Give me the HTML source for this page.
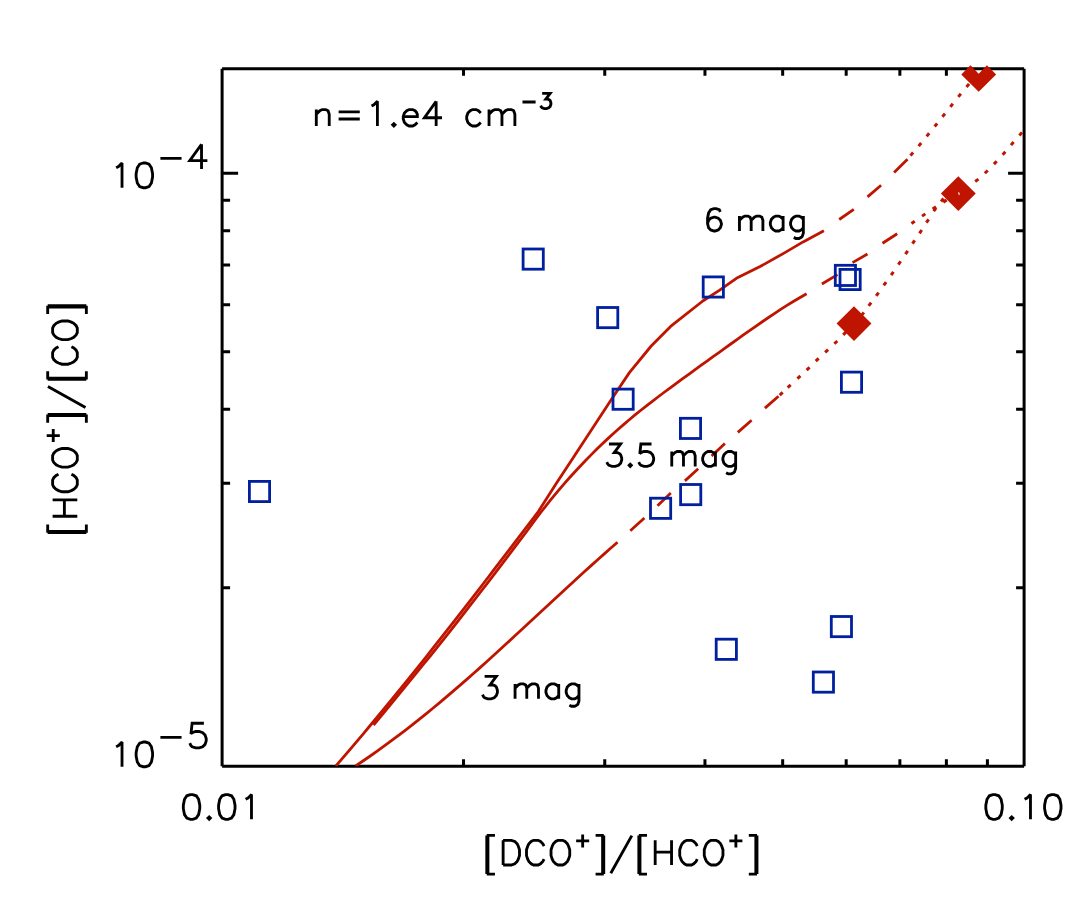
<!DOCTYPE html>
<html><head><meta charset="utf-8"><title>[HCO+]/[CO] vs [DCO+]/[HCO+]</title>
<style>html,body{margin:0;padding:0;background:#fff;font-family:"Liberation Sans",sans-serif}svg{display:block}</style>
</head><body>
<svg width="1090" height="907" viewBox="0 0 1090 907">
<defs><clipPath id="pc"><rect x="222.1" y="65.75" width="802" height="700.4"/></clipPath></defs>
<rect width="1090" height="907" fill="#fff"/>
<path d="M222.1 766.15 H1024.1 M222.1 68.75 H1024.1 M222.1 766.15 V68.75 M1024.1 766.15 V68.75" fill="none" stroke="#000" stroke-width="3" stroke-linecap="butt"/>
<path d="M463.53 766.15 V759.15 M463.53 68.75 V75.75 M604.75 766.15 V759.15 M604.75 68.75 V75.75 M704.95 766.15 V759.15 M704.95 68.75 V75.75 M782.67 766.15 V759.15 M782.67 68.75 V75.75 M846.18 766.15 V759.15 M846.18 68.75 V75.75 M899.87 766.15 V759.15 M899.87 68.75 V75.75 M946.38 766.15 V759.15 M946.38 68.75 V75.75 M987.4 766.15 V759.15 M987.4 68.75 V75.75 M222.1 587.64 H230.1 M1024.1 587.64 H1016.1 M222.1 483.23 H230.1 M1024.1 483.23 H1016.1 M222.1 409.14 H230.1 M1024.1 409.14 H1016.1 M222.1 351.67 H230.1 M1024.1 351.67 H1016.1 M222.1 304.72 H230.1 M1024.1 304.72 H1016.1 M222.1 265.02 H230.1 M1024.1 265.02 H1016.1 M222.1 230.63 H230.1 M1024.1 230.63 H1016.1 M222.1 200.3 H230.1 M1024.1 200.3 H1016.1 M222.1 173.17 H238.1 M1024.1 173.17 H1008.1" fill="none" stroke="#000" stroke-width="3"/>
<path d="M116.15 167.72 L118.5 166.55 L122.02 163.02 L122.02 187.7 M143.18 163.02 L139.65 164.2 L137.3 167.72 L136.12 173.6 L136.12 177.12 L137.3 183 L139.65 186.52 L143.18 187.7 L145.53 187.7 L149.05 186.52 L151.4 183 L152.57 177.12 L152.57 173.6 L151.4 167.72 L149.05 164.2 L145.53 163.02 Z" fill="none" stroke="#000" stroke-width="2.85" stroke-linecap="butt" stroke-linejoin="miter" stroke-miterlimit="2.5"/>
<path d="M160.4 158.32 L181.55 158.32 M201.52 144.22 L189.77 160.67 L207.4 160.67 M201.52 144.22 L201.52 168.9" fill="none" stroke="#000" stroke-width="2.85" stroke-linecap="butt" stroke-linejoin="miter" stroke-miterlimit="2.5"/>
<path d="M116.15 746.73 L118.5 745.55 L122.02 742.03 L122.02 766.7 M143.18 742.03 L139.65 743.2 L137.3 746.73 L136.12 752.6 L136.12 756.12 L137.3 762 L139.65 765.53 L143.18 766.7 L145.53 766.7 L149.05 765.53 L151.4 762 L152.57 756.12 L152.57 752.6 L151.4 746.73 L149.05 743.2 L145.53 742.03 Z" fill="none" stroke="#000" stroke-width="2.85" stroke-linecap="butt" stroke-linejoin="miter" stroke-miterlimit="2.5"/>
<path d="M160.4 737.33 L181.55 737.33 M203.88 723.23 L192.12 723.23 L190.95 733.8 L192.12 732.63 L195.65 731.45 L199.17 731.45 L202.7 732.63 L205.05 734.98 L206.22 738.5 L206.22 740.85 L205.05 744.38 L202.7 746.73 L199.17 747.9 L195.65 747.9 L192.12 746.73 L190.95 745.55 L189.77 743.2" fill="none" stroke="#000" stroke-width="2.85" stroke-linecap="butt" stroke-linejoin="miter" stroke-miterlimit="2.5"/>
<path d="M190.38 794.62 L186.85 795.8 L184.5 799.32 L183.33 805.2 L183.33 808.72 L184.5 814.6 L186.85 818.12 L190.38 819.3 L192.73 819.3 L196.25 818.12 L198.6 814.6 L199.78 808.72 L199.78 805.2 L198.6 799.32 L196.25 795.8 L192.73 794.62 Z M209.18 816.95 L208 818.12 L209.18 819.3 L210.35 818.12 Z M225.62 794.62 L222.1 795.8 L219.75 799.32 L218.58 805.2 L218.58 808.72 L219.75 814.6 L222.1 818.12 L225.62 819.3 L227.98 819.3 L231.5 818.12 L233.85 814.6 L235.03 808.72 L235.03 805.2 L233.85 799.32 L231.5 795.8 L227.98 794.62 Z M245.6 799.32 L247.95 798.15 L251.48 794.62 L251.48 819.3" fill="none" stroke="#000" stroke-width="2.85" stroke-linecap="butt" stroke-linejoin="miter" stroke-miterlimit="2.5"/>
<path d="M992.88 794.62 L989.35 795.8 L987 799.32 L985.82 805.2 L985.82 808.72 L987 814.6 L989.35 818.12 L992.88 819.3 L995.22 819.3 L998.75 818.12 L1001.1 814.6 L1002.27 808.72 L1002.27 805.2 L1001.1 799.32 L998.75 795.8 L995.22 794.62 Z M1011.67 816.95 L1010.5 818.12 L1011.67 819.3 L1012.85 818.12 Z M1024.6 799.32 L1026.95 798.15 L1030.47 794.62 L1030.47 819.3 M1051.62 794.62 L1048.1 795.8 L1045.75 799.32 L1044.58 805.2 L1044.58 808.72 L1045.75 814.6 L1048.1 818.12 L1051.62 819.3 L1053.97 819.3 L1057.5 818.12 L1059.85 814.6 L1061.02 808.72 L1061.02 805.2 L1059.85 799.32 L1057.5 795.8 L1053.97 794.62 Z" fill="none" stroke="#000" stroke-width="2.85" stroke-linecap="butt" stroke-linejoin="miter" stroke-miterlimit="2.5"/>
<path d="M486.77 835.39 L486.77 874.05 M487.94 835.39 L487.94 874.05 M486.77 835.39 L494.95 835.39 M486.77 874.05 L494.95 874.05 M503.13 840.33 L503.13 865 M503.13 840.33 L511.31 840.33 L514.82 841.5 L517.16 843.85 L518.32 846.2 L519.49 849.73 L519.49 855.6 L518.32 859.12 L517.16 861.48 L514.82 863.83 L511.31 865 L503.13 865 M544.03 846.2 L542.86 843.85 L540.53 841.5 L538.19 840.33 L533.52 840.33 L531.18 841.5 L528.84 843.85 L527.67 846.2 L526.5 849.73 L526.5 855.6 L527.67 859.12 L528.84 861.48 L531.18 863.83 L533.52 865 L538.19 865 L540.53 863.83 L542.86 861.48 L544.03 859.12 M558.05 840.33 L555.72 841.5 L553.38 843.85 L552.21 846.2 L551.04 849.73 L551.04 855.6 L552.21 859.12 L553.38 861.48 L555.72 863.83 L558.05 865 L562.73 865 L565.07 863.83 L567.4 861.48 L568.57 859.12 L569.74 855.6 L569.74 849.73 L568.57 846.2 L567.4 843.85 L565.07 841.5 L562.73 840.33 Z" fill="none" stroke="#000" stroke-width="2.85" stroke-linecap="butt" stroke-linejoin="miter" stroke-miterlimit="2.5"/>
<path d="M582.66 834.39 L582.66 847.5 M576.14 840.94 L589.18 840.94" fill="none" stroke="#000" stroke-width="2.85" stroke-linecap="butt" stroke-linejoin="miter" stroke-miterlimit="2.5"/>
<path d="M602.6 835.39 L602.6 874.05 M603.77 835.39 L603.77 874.05 M595.59 835.39 L603.77 835.39 M595.59 874.05 L603.77 874.05 M631.81 835.62 L610.78 873.23 M638.82 835.39 L638.82 874.05 M639.99 835.39 L639.99 874.05 M638.82 835.39 L647 835.39 M638.82 874.05 L647 874.05 M655.18 840.33 L655.18 865 M671.54 840.33 L671.54 865 M655.18 852.08 L671.54 852.08 M697.25 846.2 L696.08 843.85 L693.75 841.5 L691.41 840.33 L686.73 840.33 L684.4 841.5 L682.06 843.85 L680.89 846.2 L679.72 849.73 L679.72 855.6 L680.89 859.12 L682.06 861.48 L684.4 863.83 L686.73 865 L691.41 865 L693.75 863.83 L696.08 861.48 L697.25 859.12 M711.27 840.33 L708.94 841.5 L706.6 843.85 L705.43 846.2 L704.26 849.73 L704.26 855.6 L705.43 859.12 L706.6 861.48 L708.94 863.83 L711.27 865 L715.95 865 L718.28 863.83 L720.62 861.48 L721.79 859.12 L722.96 855.6 L722.96 849.73 L721.79 846.2 L720.62 843.85 L718.28 841.5 L715.95 840.33 Z" fill="none" stroke="#000" stroke-width="2.85" stroke-linecap="butt" stroke-linejoin="miter" stroke-miterlimit="2.5"/>
<path d="M735.88 834.39 L735.88 847.5 M729.36 840.94 L742.4 840.94" fill="none" stroke="#000" stroke-width="2.85" stroke-linecap="butt" stroke-linejoin="miter" stroke-miterlimit="2.5"/>
<path d="M755.82 835.39 L755.82 874.05 M756.99 835.39 L756.99 874.05 M748.81 835.39 L756.99 835.39 M748.81 874.05 L756.99 874.05" fill="none" stroke="#000" stroke-width="2.85" stroke-linecap="butt" stroke-linejoin="miter" stroke-miterlimit="2.5"/>
<path d="M47.69 532.63 L86.35 532.63 M47.69 531.46 L86.35 531.46 M47.69 532.63 L47.69 524.45 M86.35 532.63 L86.35 524.45 M52.62 516.27 L77.3 516.27 M52.62 499.91 L77.3 499.91 M64.38 516.27 L64.38 499.91 M58.5 474.2 L56.15 475.37 L53.8 477.7 L52.62 480.04 L52.62 484.72 L53.8 487.05 L56.15 489.39 L58.5 490.56 L62.02 491.73 L67.9 491.73 L71.42 490.56 L73.77 489.39 L76.12 487.05 L77.3 484.72 L77.3 480.04 L76.12 477.7 L73.77 475.37 L71.42 474.2 M52.62 460.18 L53.8 462.51 L56.15 464.85 L58.5 466.02 L62.02 467.19 L67.9 467.19 L71.42 466.02 L73.77 464.85 L76.12 462.51 L77.3 460.18 L77.3 455.5 L76.12 453.17 L73.77 450.83 L71.42 449.66 L67.9 448.49 L62.02 448.49 L58.5 449.66 L56.15 450.83 L53.8 453.17 L52.62 455.5 Z" fill="none" stroke="#000" stroke-width="2.85" stroke-linecap="butt" stroke-linejoin="miter" stroke-miterlimit="2.5"/>
<path d="M46.69 435.57 L59.8 435.57 M53.24 442.09 L53.24 429.05" fill="none" stroke="#000" stroke-width="2.85" stroke-linecap="butt" stroke-linejoin="miter" stroke-miterlimit="2.5"/>
<path d="M47.69 415.63 L86.35 415.63 M47.69 414.46 L86.35 414.46 M47.69 422.64 L47.69 414.46 M86.35 422.64 L86.35 414.46 M47.92 386.42 L85.52 407.45 M47.69 379.41 L86.35 379.41 M47.69 378.24 L86.35 378.24 M47.69 379.41 L47.69 371.23 M86.35 379.41 L86.35 371.23 M58.5 346.69 L56.15 347.86 L53.8 350.19 L52.62 352.53 L52.62 357.21 L53.8 359.54 L56.15 361.88 L58.5 363.05 L62.02 364.22 L67.9 364.22 L71.42 363.05 L73.77 361.88 L76.12 359.54 L77.3 357.21 L77.3 352.53 L76.12 350.19 L73.77 347.86 L71.42 346.69 M52.62 332.67 L53.8 335 L56.15 337.34 L58.5 338.51 L62.02 339.68 L67.9 339.68 L71.42 338.51 L73.77 337.34 L76.12 335 L77.3 332.67 L77.3 327.99 L76.12 325.65 L73.77 323.32 L71.42 322.15 L67.9 320.98 L62.02 320.98 L58.5 322.15 L56.15 323.32 L53.8 325.65 L52.62 327.99 Z M47.69 306.96 L86.35 306.96 M47.69 305.79 L86.35 305.79 M47.69 313.97 L47.69 305.79 M86.35 313.97 L86.35 305.79" fill="none" stroke="#000" stroke-width="2.85" stroke-linecap="butt" stroke-linejoin="miter" stroke-miterlimit="2.5"/>
<path d="M316.3 109.55 L316.3 126 M316.3 114.25 L319.83 110.72 L322.18 109.55 L325.7 109.55 L328.05 110.72 L329.23 114.25 L329.23 126 M338.62 111.9 L359.78 111.9 M338.62 118.95 L359.78 118.95 M371.53 106.03 L373.88 104.85 L377.4 101.33 L377.4 126 M393.85 123.65 L392.68 124.83 L393.85 126 L395.03 124.83 Z M403.25 116.6 L417.35 116.6 L417.35 114.25 L416.18 111.9 L415 110.72 L412.65 109.55 L409.12 109.55 L406.78 110.72 L404.43 113.08 L403.25 116.6 L403.25 118.95 L404.43 122.47 L406.78 124.83 L409.12 126 L412.65 126 L415 124.83 L417.35 122.47 M436.15 101.33 L424.4 117.78 L442.03 117.78 M436.15 101.33 L436.15 126 M480.8 113.08 L478.45 110.72 L476.1 109.55 L472.58 109.55 L470.23 110.72 L467.88 113.08 L466.7 116.6 L466.7 118.95 L467.88 122.47 L470.23 124.83 L472.58 126 L476.1 126 L478.45 124.83 L480.8 122.47 M489.03 109.55 L489.03 126 M489.03 114.25 L492.55 110.72 L494.9 109.55 L498.43 109.55 L500.78 110.72 L501.95 114.25 L501.95 126 M501.95 114.25 L505.48 110.72 L507.83 109.55 L511.35 109.55 L513.7 110.72 L514.88 114.25 L514.88 126" fill="none" stroke="#000" stroke-width="2.85" stroke-linecap="butt" stroke-linejoin="miter" stroke-miterlimit="2.5"/>
<path d="M522.49 102.04 L535.6 102.04 M542.16 93.3 L550.17 93.3 L545.8 99.13 L547.99 99.13 L549.44 99.86 L550.17 100.59 L550.9 102.77 L550.9 104.23 L550.17 106.41 L548.72 107.87 L546.53 108.6 L544.34 108.6 L542.16 107.87 L541.43 107.14 L540.7 105.69" fill="none" stroke="#000" stroke-width="2.85" stroke-linecap="butt" stroke-linejoin="miter" stroke-miterlimit="2.5"/>
<g fill="none" stroke="#bf1500" stroke-width="2.8" stroke-linecap="butt" stroke-linejoin="round" clip-path="url(#pc)">
<path d="M335.9 765.9 L341.53 759.38 L347.11 752.85 L352.67 746.33 L358.19 739.81 L363.69 733.28 L369.15 726.76 L374.59 720.24 L380 713.72 L385.38 707.19 L390.73 700.67 L396.06 694.15 L401.37 687.62 L406.65 681.1 L411.91 674.58 L417.14 668.05 L422.36 661.53 L427.55 655.01 L432.73 648.48 L437.88 641.96 L443.02 635.44 L448.14 628.92 L453.25 622.39 L458.34 615.87 L463.41 609.35 L468.47 602.82 L473.52 596.3 L478.56 589.78 L483.58 583.25 L488.59 576.73 L493.6 570.21 L498.59 563.68 L503.58 557.16 L508.56 550.64 L513.53 544.12 L518.5 537.59 L523.46 531.07 L528.42 524.55 L533.38 518.02 L538.33 511.5 L556.4 483.2 L571.7 460 L610.7 400.5 L629.4 372.6 L651.2 346 L670.6 326.4 L702.8 301 L719.3 290.3 L736.4 278.3 L760.6 266.3 L784.9 252.6 L803.1 241.9 L823.9 230.8"/>
<path d="M373.53 725 L379.15 718.28 L384.75 711.55 L390.31 704.83 L395.84 698.1 L401.35 691.38 L406.87 684.66 L412.38 677.93 L417.87 671.21 L423.33 664.48 L428.77 657.76 L434.19 651.03 L439.59 644.31 L444.97 637.59 L450.33 630.86 L455.62 624.14 L460.87 617.41 L466.1 610.69 L471.32 603.97 L476.52 597.24 L481.7 590.52 L486.87 583.79 L492.03 577.07 L497.18 570.34 L502.32 563.62 L507.43 556.9 L512.52 550.17 L517.61 543.45 L522.68 536.72 L527.76 530 L532.13 523.94 L536.58 517.93 L541.12 511.97 L545.73 506.05 L550.42 500.19 L555.19 494.38 L560.03 488.62 L564.95 482.93 L569.93 477.29 L575 471.71 L580.13 466.19 L585.33 460.74 L590.6 455.36 L595.93 450.05 L601.33 444.8 L606.8 439.63 L612.32 434.54 L617.91 429.52 L623.57 424.58 L629.28 419.71 L635.04 414.94 L640.87 410.23 L646.74 405.6 L652.65 401.02 L658.6 396.49 L664.58 392 L670.59 387.54 L676.62 383.1 L682.67 378.68 L688.73 374.26 L694.81 369.85 L700.89 365.45 L706.99 361.06 L713.09 356.66 L719.21 352.28 L725.33 347.89 L731.46 343.5 L737.6 339.12 L743.74 334.73 L749.9 330.37 L756.07 326.03 L762.27 321.73 L768.49 317.48 L774.74 313.3 L781.02 309.2 L787.35 305.18 L793.71 301.27 L800.13 297.47 L806.6 293.8"/>
<path d="M355.6 765.9 L362.96 760.97 L370.26 755.97 L377.5 750.88 L384.68 745.72 L391.8 740.48 L398.87 735.18 L405.89 729.82 L412.85 724.39 L419.77 718.9 L426.65 713.35 L433.48 707.76 L440.28 702.11 L447.03 696.42 L453.75 690.68 L460.44 684.9 L467.1 679.08 L473.73 673.24 L480.34 667.35 L486.92 661.45 L493.48 655.51 L500.03 649.56 L506.56 643.58 L513.07 637.59 L519.58 631.59 L526.07 625.58 L532.56 619.56 L539.05 613.54 L545.54 607.52 L552.02 601.51 L558.52 595.5 L565.01 589.49 L571.52 583.51 L578.03 577.53 L584.56 571.58 L591.11 565.65 L597.67 559.74 L604.26 553.86 L610.86 548.01 L617.5 542.2"/>
<path d="M839.2 219.5 L853.8 209.3 M867.5 196.9 L881.1 185.3 M894.1 172.5 L907.5 159.2 M821.9 284 L837.5 274.6 M852.5 262.6 L867.5 254 M882.5 243.2 L897.2 233.8 M630.3 530.8 L644.4 518 M657.5 505.8 L670.8 493 M684.9 480.9 L698.2 468.7 M711.6 456.1 L724.9 443.5 M737.8 432.4 L751.6 420.2 M764.9 408.1 L778.5 396.2"/>
<path d="M910.5 155.62 L913.1 152.58 M918.62 146.14 L921.18 143.06 M926.64 136.35 L929.16 133.25 M934.64 126.56 L937.16 123.44 M942.45 116.76 L944.95 113.64 M950.35 106.86 L952.85 103.74 M958.34 96.85 L960.86 93.75 M966.53 86.94 L969.07 83.86 M974.54 77.15 L977.06 74.05 M911.45 223.43 L914.75 221.17 M922.05 216.13 L925.35 213.87 M932.62 208.89 L935.98 206.71 M943.32 202.29 L946.68 200.11 M975.17 181.46 L978.43 179.14 M984.85 173.28 L987.75 170.52 M993.93 164.15 L996.67 161.25 M1002.67 154.69 L1005.33 151.71 M1010.99 145.11 L1013.61 142.09 M1019.39 135.41 L1022.01 132.39 M779.74 395.17 L782.66 392.43 M787.74 387.66 L790.66 384.94 M797.43 378.66 L800.37 375.94 M806.65 370.18 L809.55 367.42 M815.76 361.19 L818.64 358.41 M825.14 352.37 L828.06 349.63 M834.37 343.8 L837.23 341 M843.22 334.85 L845.98 331.95 M861.29 315.61 L863.91 312.59 M868.7 305.8 L871.1 302.6 M876.22 295.91 L878.58 292.69 M883.74 285.43 L886.06 282.17 M891.15 275.14 L893.45 271.86 M898.37 264.55 L900.63 261.25 M905.48 254.16 L907.72 250.84 M912.48 243.66 L914.72 240.34 M919.5 233.37 L921.7 230.03 M926.41 222.68 L928.59 219.32 M933.75 211.24 L936.05 207.96 M941.09 201.49 L943.51 198.31" stroke-width="3.0"/>
</g>
<path d="M720.34 211.83 L719.27 209.7 L716.08 208.63 L713.95 208.63 L710.75 209.7 L708.62 212.9 L707.56 218.22 L707.56 223.54 L708.62 227.81 L710.75 229.94 L713.95 231 L715.01 231 L718.21 229.94 L720.34 227.81 L721.4 224.61 L721.4 223.54 L720.34 220.35 L718.21 218.22 L715.01 217.16 L713.95 217.16 L710.75 218.22 L708.62 220.35 L707.56 223.54" fill="none" stroke="#000" stroke-width="2.85" stroke-linecap="butt" stroke-linejoin="miter" stroke-miterlimit="2.5"/>
<path d="M739.46 216.09 L739.46 231 M739.46 220.35 L742.66 217.16 L744.79 216.09 L747.98 216.09 L750.11 217.16 L751.18 220.35 L751.18 231 M751.18 220.35 L754.37 217.16 L756.5 216.09 L759.7 216.09 L761.83 217.16 L762.89 220.35 L762.89 231 M783.12 216.09 L783.12 231 M783.12 219.28 L781 217.16 L778.87 216.09 L775.67 216.09 L773.54 217.16 L771.41 219.28 L770.35 222.48 L770.35 224.61 L771.41 227.81 L773.54 229.94 L775.67 231 L778.87 231 L781 229.94 L783.12 227.81 M803.36 216.09 L803.36 233.13 L802.3 236.32 L801.23 237.39 L799.1 238.46 L795.91 238.46 L793.78 237.39 M803.36 219.28 L801.23 217.16 L799.1 216.09 L795.91 216.09 L793.78 217.16 L791.65 219.28 L790.58 222.48 L790.58 224.61 L791.65 227.81 L793.78 229.94 L795.91 231 L799.1 231 L801.23 229.94 L803.36 227.81" fill="none" stroke="#000" stroke-width="2.85" stroke-linecap="butt" stroke-linejoin="miter" stroke-miterlimit="2.5"/>
<path d="M608.93 444.03 L620.64 444.03 L614.25 452.55 L617.45 452.55 L619.58 453.62 L620.64 454.69 L621.71 457.88 L621.71 460.01 L620.64 463.2 L618.51 465.33 L615.32 466.4 L612.12 466.4 L608.93 465.33 L607.86 464.27 L606.8 462.14 M630.23 464.27 L629.16 465.33 L630.23 466.4 L631.29 465.33 Z M651.52 444.03 L640.88 444.03 L639.81 453.62 L640.88 452.55 L644.07 451.49 L647.26 451.49 L650.46 452.55 L652.59 454.69 L653.65 457.88 L653.65 460.01 L652.59 463.2 L650.46 465.33 L647.26 466.4 L644.07 466.4 L640.88 465.33 L639.81 464.27 L638.75 462.14" fill="none" stroke="#000" stroke-width="2.85" stroke-linecap="butt" stroke-linejoin="miter" stroke-miterlimit="2.5"/>
<path d="M671.76 451.49 L671.76 466.4 M671.76 455.75 L674.96 452.55 L677.09 451.49 L680.28 451.49 L682.41 452.55 L683.48 455.75 L683.48 466.4 M683.48 455.75 L686.67 452.55 L688.8 451.49 L692 451.49 L694.12 452.55 L695.19 455.75 L695.19 466.4 M715.42 451.49 L715.42 466.4 M715.42 454.69 L713.29 452.55 L711.16 451.49 L707.97 451.49 L705.84 452.55 L703.71 454.69 L702.64 457.88 L702.64 460.01 L703.71 463.2 L705.84 465.33 L707.97 466.4 L711.16 466.4 L713.29 465.33 L715.42 463.2 M735.66 451.49 L735.66 468.53 L734.6 471.72 L733.53 472.79 L731.4 473.85 L728.21 473.85 L726.08 472.79 M735.66 454.69 L733.53 452.55 L731.4 451.49 L728.21 451.49 L726.08 452.55 L723.95 454.69 L722.88 457.88 L722.88 460.01 L723.95 463.2 L726.08 465.33 L728.21 466.4 L731.4 466.4 L733.53 465.33 L735.66 463.2" fill="none" stroke="#000" stroke-width="2.85" stroke-linecap="butt" stroke-linejoin="miter" stroke-miterlimit="2.5"/>
<path d="M484.62 676.43 L496.34 676.43 L489.95 684.95 L493.14 684.95 L495.28 686.02 L496.34 687.08 L497.41 690.28 L497.41 692.41 L496.34 695.6 L494.21 697.73 L491.01 698.8 L487.82 698.8 L484.62 697.73 L483.56 696.67 L482.5 694.54" fill="none" stroke="#000" stroke-width="2.85" stroke-linecap="butt" stroke-linejoin="miter" stroke-miterlimit="2.5"/>
<path d="M515.06 683.89 L515.06 698.8 M515.06 688.15 L518.25 684.95 L520.38 683.89 L523.58 683.89 L525.71 684.95 L526.77 688.15 L526.77 698.8 M526.77 688.15 L529.97 684.95 L532.1 683.89 L535.29 683.89 L537.42 684.95 L538.49 688.15 L538.49 698.8 M558.73 683.89 L558.73 698.8 M558.73 687.08 L556.6 684.95 L554.47 683.89 L551.27 683.89 L549.14 684.95 L547.01 687.08 L545.95 690.28 L545.95 692.41 L547.01 695.6 L549.14 697.73 L551.27 698.8 L554.47 698.8 L556.6 697.73 L558.73 695.6 M578.96 683.89 L578.96 700.93 L577.89 704.12 L576.83 705.19 L574.7 706.25 L571.5 706.25 L569.38 705.19 M578.96 687.08 L576.83 684.95 L574.7 683.89 L571.5 683.89 L569.38 684.95 L567.25 687.08 L566.18 690.28 L566.18 692.41 L567.25 695.6 L569.38 697.73 L571.5 698.8 L574.7 698.8 L576.83 697.73 L578.96 695.6" fill="none" stroke="#000" stroke-width="2.85" stroke-linecap="butt" stroke-linejoin="miter" stroke-miterlimit="2.5"/>
<g fill="none" stroke="#00209f" stroke-width="2.8">
<rect x="249.4" y="481.4" width="20.2" height="20.2"/>
<rect x="523.1" y="249" width="20.2" height="20.2"/>
<rect x="597.6" y="307.5" width="20.2" height="20.2"/>
<rect x="703.2" y="276.9" width="20.2" height="20.2"/>
<rect x="613" y="389.1" width="20.2" height="20.2"/>
<rect x="680.4" y="418.3" width="20.2" height="20.2"/>
<rect x="680.6" y="484.5" width="20.2" height="20.2"/>
<rect x="650.5" y="498.2" width="20.2" height="20.2"/>
<rect x="835.3" y="265.3" width="20.2" height="20.2"/>
<rect x="840" y="269.4" width="20.2" height="20.2"/>
<rect x="841.4" y="372.1" width="20.2" height="20.2"/>
<rect x="716.2" y="639.2" width="20.2" height="20.2"/>
<rect x="831.3" y="616.5" width="20.2" height="20.2"/>
<rect x="813.3" y="672" width="20.2" height="20.2"/>
</g>
<g fill="#bf1500">
<path d="M836.55 323.6 L854 306.15 L871.45 323.6 L854 341.05 Z"/>
<path d="M940.85 193.6 L958.3 176.15 L975.75 193.6 L958.3 211.05 Z"/>
<path d="M958.1 192.1 L959.3 192.5 L959.9 194.6 L958.9 195.2 L958.3 193.6 Z" fill="#fff" opacity="0.85"/>
<path d="M961.25 74.4 L970.45 65.2 L978.7 73.8 L986.95 65.2 L996.15 74.4 L978.7 91.85 Z"/>
</g>
</svg>
</body></html>
